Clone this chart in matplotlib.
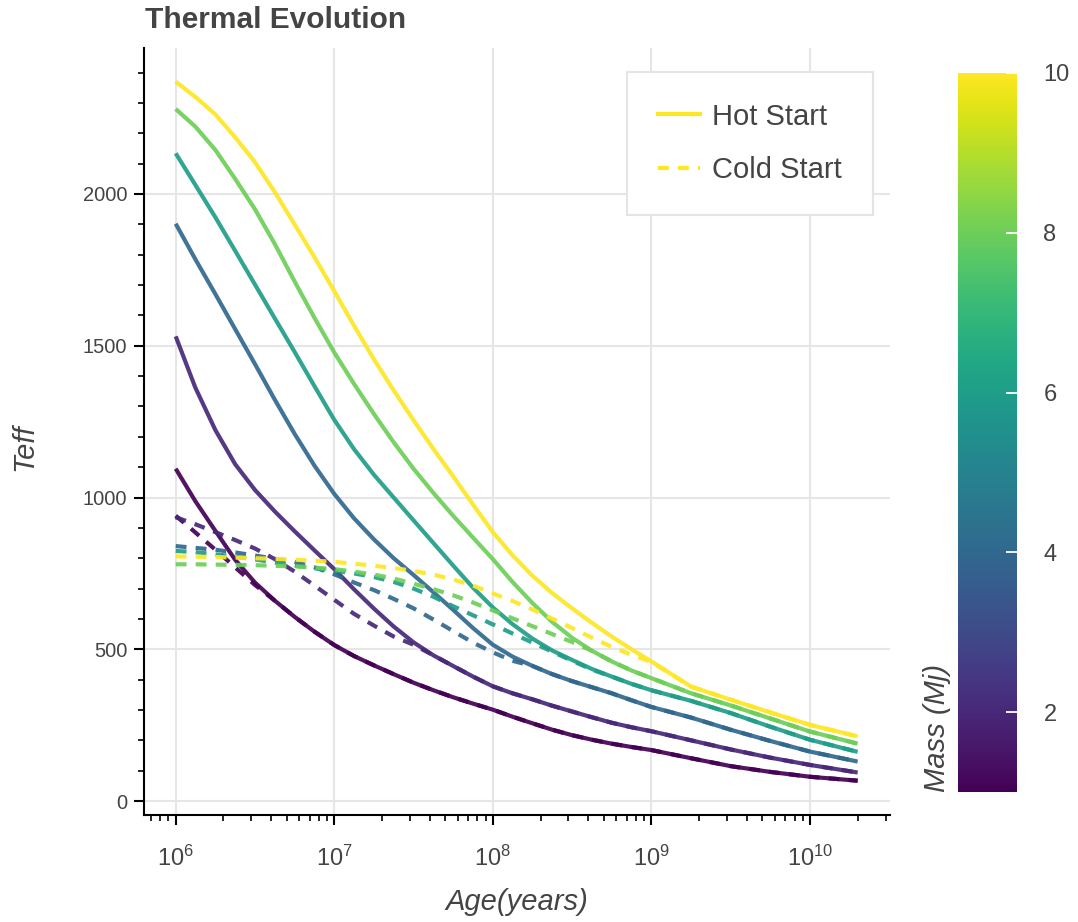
import matplotlib
matplotlib.use('Agg')
import matplotlib.pyplot as plt
import numpy as np
from matplotlib import cm, colors
from matplotlib.lines import Line2D
from matplotlib.ticker import LogLocator, MultipleLocator, NullFormatter

plt.rcParams['font.family'] = ['Liberation Sans', 'DejaVu Sans']
plt.rcParams['mathtext.fontset'] = 'custom'
plt.rcParams['mathtext.rm'] = 'Liberation Sans'
plt.rcParams['mathtext.it'] = 'Liberation Sans:italic'

# ---------------- data ----------------
ages = [1.0e6, 1.33e6, 1.78e6, 2.37e6, 3.16e6, 4.22e6, 5.62e6, 7.50e6,
        1.0e7, 1.33e7, 1.78e7, 2.37e7, 3.16e7, 4.22e7, 5.62e7, 7.50e7,
        1.0e8, 1.33e8, 1.78e8, 2.37e8, 3.16e8, 4.22e8, 5.62e8, 7.50e8,
        1.0e9, 1.78e9, 3.16e9, 5.62e9, 1.0e10, 2.0e10]

masses = [1, 2, 4, 6, 8, 10]

hot_1 = [1095, 988, 890, 795, 720, 660, 607, 558,
         514, 478, 447, 418, 390, 365, 342, 321,
         301, 278, 256, 235, 217, 202, 189, 178,
         168, 141, 115, 96, 80, 67]
hot_2 = [1531, 1362, 1222, 1110, 1025, 954, 889, 826,
         764, 698, 634, 575, 523, 480, 445, 410,
         378, 355, 335, 314, 295, 276, 258, 243,
         230, 200, 170, 143, 119, 94]
hot_4 = [1902, 1785, 1670, 1555, 1440, 1322, 1210, 1105,
         1012, 932, 862, 800, 745, 688, 630, 570,
         515, 476, 445, 418, 395, 375, 355, 332,
         310, 275, 235, 198, 163, 130]
hot_6 = [2134, 2030, 1923, 1813, 1702, 1590, 1480, 1367,
         1256, 1160, 1075, 1000, 925, 850, 776, 703,
         638, 583, 535, 496, 465, 435, 410, 386,
         365, 330, 290, 245, 202, 162]
hot_8 = [2280, 2222, 2145, 2050, 1950, 1835, 1712, 1592,
         1478, 1375, 1275, 1182, 1095, 1015, 940, 868,
         797, 722, 652, 590, 538, 495, 460, 430,
         405, 355, 315, 272, 229, 189]
hot_10 = [2370, 2320, 2262, 2187, 2105, 2006, 1900, 1792,
          1680, 1567, 1455, 1353, 1255, 1160, 1070, 977,
          886, 810, 742, 685, 635, 587, 542, 500,
          460, 377, 334, 292, 251, 213]

cold_1 = [940, 885, 828, 770, 712, 660, 607, 558,
          514, 478, 447, 418, 390, 365, 342, 321,
          301, 278, 256, 235, 217, 202, 189, 178,
          168, 141, 115, 96, 80, 67]
cold_2 = [935, 912, 886, 860, 832, 797, 756, 710,
          663, 617, 578, 542, 515, 480, 445, 410,
          378, 355, 335, 314, 295, 276, 258, 243,
          230, 200, 170, 143, 119, 94]
cold_4 = [840, 834, 828, 819, 809, 798, 788, 770,
          747, 720, 695, 666, 635, 598, 560, 522,
          490, 462, 445, 418, 395, 375, 355, 332,
          310, 275, 235, 198, 163, 130]
cold_6 = [824, 820, 813, 805, 796, 786, 776, 767,
          759, 750, 738, 722, 700, 673, 642, 612,
          582, 552, 522, 492, 462, 433, 410, 386,
          365, 330, 290, 245, 202, 162]
cold_8 = [780, 780, 779, 778, 777, 775, 773, 769,
          764, 756, 746, 733, 716, 698, 678, 654,
          628, 602, 576, 550, 524, 495, 460, 430,
          405, 355, 315, 272, 229, 189]
cold_10 = [806, 805, 804, 802, 800, 798, 795, 792,
           788, 782, 775, 768, 758, 746, 730, 710,
           684, 659, 631, 601, 570, 538, 508, 482,
           458, 377, 334, 292, 251, 213]

hot = [hot_1, hot_2, hot_4, hot_6, hot_8, hot_10]
cold = [cold_1, cold_2, cold_4, cold_6, cold_8, cold_10]

y_ticks = [0, 500, 1000, 1500, 2000]
cbar_ticks = [2, 4, 6, 8, 10]

# ---------------- figure ----------------
W, H = 1078, 922
fig = plt.figure(figsize=(W / 100, H / 100), dpi=100)
ax = fig.add_axes([144 / W, 1 - 815 / H, 746 / W, 767 / H])

norm = colors.Normalize(vmin=1, vmax=10)
cmap = plt.get_cmap('viridis')
txt = '#444444'
dash = (0, (2.6, 2.2))

for m, vals in zip(masses, hot):
    ax.plot(ages, vals, color=cmap(norm(m)), lw=3.0, alpha=0.92,
            solid_capstyle='butt', solid_joinstyle='round')
for m, vals in zip(masses, cold):
    ax.plot(ages, vals, color=cmap(norm(m)), lw=3.0, alpha=0.92,
            ls=dash, dash_capstyle='butt')

ax.set_xscale('log')
ax.set_xlim(6.31e5, 3.2e10)
ax.set_ylim(-46, 2481)

for s in ['top', 'right']:
    ax.spines[s].set_visible(False)
for s in ['left', 'bottom']:
    ax.spines[s].set_linewidth(1.5)
    ax.spines[s].set_color('black')

ax.set_yticks(y_ticks)
ax.yaxis.set_minor_locator(MultipleLocator(100))
ax.xaxis.set_major_locator(LogLocator(base=10, numticks=20))
ax.xaxis.set_minor_locator(LogLocator(base=10, subs=np.arange(2, 10), numticks=100))
ax.xaxis.set_minor_formatter(NullFormatter())

ax.tick_params(which='major', direction='out', length=7, width=1.5,
               labelcolor=txt)
ax.tick_params(which='minor', direction='out', length=4, width=1.2)
ax.tick_params(axis='x', which='major', pad=15, labelsize=17)
ax.tick_params(axis='y', which='major', pad=5, labelsize=14.5)

ax.grid(True, which='major', color='#e6e6e6', lw=1.5)
ax.set_axisbelow(True)

ax.set_xlabel('Age(years)', fontsize=21, style='italic', color=txt)
ax.xaxis.set_label_coords(0.5, -0.095)
ax.set_ylabel('Teff', fontsize=21, style='italic', color=txt)
ax.yaxis.set_label_coords(-0.142, 0.48)

fig.text(145 / W, 1 - 20 / H, 'Thermal Evolution', fontsize=21.5, weight='bold',
         color=txt, ha='left', va='center')

# legend
leg_color = cmap(norm(10))
handles = [Line2D([], [], color=leg_color, lw=3.0),
           Line2D([], [], color=leg_color, lw=3.0, ls=dash)]
leg = ax.legend(handles, ['Hot Start', 'Cold Start'], loc='upper left',
                bbox_to_anchor=((627 - 144) / 746, (815 - 72) / 767),
                borderaxespad=0, fontsize=21, frameon=True, fancybox=False,
                framealpha=1, edgecolor='#e5e5e5', handlelength=1.45,
                handletextpad=0.42, labelspacing=0.88, borderpad=1.05)
leg.get_frame().set_linewidth(1.5)
for t in leg.get_texts():
    t.set_color(txt)

# colorbar
cax = fig.add_axes([958 / W, 1 - 792 / H, 59 / W, 719 / H])
sm = cm.ScalarMappable(norm=norm, cmap=cmap)
cb = fig.colorbar(sm, cax=cax, ticks=cbar_ticks)
cb.outline.set_visible(False)
cax.tick_params(direction='in', color='white', length=8, width=1.3,
                labelsize=17, labelcolor=txt, pad=19)
cax.text(-0.36, 0.0, 'Mass (Mj)', rotation=90, ha='center', va='bottom',
         transform=cax.transAxes, fontsize=21, style='italic', color=txt)

fig.savefig('out.png', dpi=100)
